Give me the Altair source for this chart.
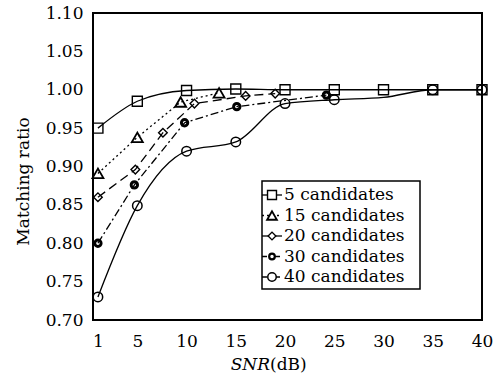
import altair as alt
import pandas as pd

# ---- data ----
series_names = ["5 candidates", "15 candidates", "20 candidates", "30 candidates", "40 candidates"]

snr_5 = [1, 5, 10, 15, 20, 25, 30, 35, 40]
ratio_5 = [0.950, 0.985, 0.999, 1.001, 1.000, 1.000, 1.000, 1.000, 1.000]
mark_5 = [True] * 9

snr_15 = [1, 5, 9.4, 13.3]
ratio_15 = [0.891, 0.938, 0.984, 0.996]
mark_15 = [True] * 4

snr_20 = [1, 4.8, 7.6, 10.8, 16, 19]
ratio_20 = [0.860, 0.896, 0.944, 0.982, 0.992, 0.995]
mark_20 = [True] * 6

snr_30 = [1, 4.7, 9.8, 15.1, 24.2]
ratio_30 = [0.800, 0.876, 0.957, 0.978, 0.993]
mark_30 = [True] * 5

snr_40 = [1, 5, 10, 15, 20, 25, 30, 35, 40]
ratio_40 = [0.730, 0.849, 0.920, 0.932, 0.982, 0.987, 0.990, 1.000, 1.000]
mark_40 = [True, True, True, True, True, True, False, True, True]

x_ticks = [1, 5, 10, 15, 20, 25, 30, 35, 40]
y_ticks = [0.70, 0.75, 0.80, 0.85, 0.90, 0.95, 1.00, 1.05, 1.10]

# ---- styles ----
FONT = "DejaVu Serif"
FS = 17
styles = {
    "5 candidates":  dict(dash=[], shape="square", size=100, sw=1.4, interp="monotone", ldash=[]),
    "15 candidates": dict(dash=[2, 3], shape="triangle-up", size=120, sw=1.8, interp="linear", ldash=[2, 3]),
    "20 candidates": dict(dash=[9, 5], shape="diamond", size=75, sw=1.4, interp="linear", ldash=[]),
    "30 candidates": dict(dash=[8, 3, 2, 3], shape="circle", size=40, sw=3.0, interp="linear", ldash=[5, 3, 2, 3]),
    "40 candidates": dict(dash=[], shape="circle", size=90, sw=1.5, interp="monotone", ldash=[5, 3, 2, 3]),
}
data = {
    "5 candidates": (snr_5, ratio_5, mark_5),
    "15 candidates": (snr_15, ratio_15, mark_15),
    "20 candidates": (snr_20, ratio_20, mark_20),
    "30 candidates": (snr_30, ratio_30, mark_30),
    "40 candidates": (snr_40, ratio_40, mark_40),
}

xenc = alt.X("snr:Q", scale=alt.Scale(domain=[0.5, 40], nice=False, zero=False),
             axis=alt.Axis(values=x_ticks, title=None, ticks=False, domain=False, grid=False,
                           labelPadding=13, labelFont=FONT, labelFontSize=FS, labelColor="black",
                           labelFlush=False))
yenc = alt.Y("ratio:Q", scale=alt.Scale(domain=[0.70, 1.10], nice=False, zero=False),
             axis=alt.Axis(values=y_ticks, format=".2f", ticks=False, domain=False, grid=False,
                           labelPadding=10, labelFont=FONT, labelFontSize=FS, labelColor="black",
                           title="Matching ratio", titleFont=FONT, titleFontSize=FS,
                           titleFontWeight="normal", titleColor="black", titleX=-70, titleY=168,
                           titleAngle=270, titleAlign="center", titleBaseline="middle"))

layers = []
for name in series_names:
    xs, ys, ms = data[name]
    st = styles[name]
    df = pd.DataFrame({"snr": xs, "ratio": ys, "mark": ms})
    line_kw = dict(color="black", strokeWidth=1.3, interpolate=st["interp"])
    if st["dash"]:
        line_kw["strokeDash"] = st["dash"]
    layers.append(alt.Chart(df).mark_line(**line_kw).encode(x=xenc, y=yenc))
    layers.append(
        alt.Chart(df[df["mark"]]).mark_point(shape=st["shape"], size=st["size"], filled=False,
                                             color="black", strokeWidth=st["sw"], opacity=1)
        .encode(x=xenc, y=yenc)
    )

# ---- legend (drawn as a box with entries) ----
box_l, box_r, box_t, box_b = 169, 327, 168, 276
layers.append(
    alt.Chart(pd.DataFrame({"k": [0]})).mark_rect(fill="white", stroke="black", strokeWidth=1.5)
    .encode(x=alt.value(box_l), x2=alt.value(box_r), y=alt.value(box_t), y2=alt.value(box_b))
)
for i, name in enumerate(series_names):
    st = styles[name]
    yy = 182 + 20.5 * i
    one = pd.DataFrame({"series": [name]})
    rk = dict(color="black", strokeWidth=1.3)
    if st["ldash"]:
        rk["strokeDash"] = st["ldash"]
    layers.append(alt.Chart(one).mark_rule(**rk).encode(
        x=alt.value(box_l), x2=alt.value(box_l + 20), y=alt.value(yy)))
    layers.append(alt.Chart(one).mark_point(shape=st["shape"], size=st["size"] * 0.8, filled=False,
                                            fill="white", color="black",
                                            strokeWidth=min(st["sw"], 2.2), opacity=1)
                  .encode(x=alt.value(box_l + 10), y=alt.value(yy)))
    layers.append(alt.Chart(one).mark_text(align="left", baseline="middle", font=FONT, fontSize=FS,
                                           color="black")
                  .encode(x=alt.value(box_l + 22), y=alt.value(yy), text="series:N"))

# ---- x-axis title with italic SNR ----
title_mid = 271 - 93 - 1
layers.append(alt.Chart(pd.DataFrame({"t": ["SNR"]})).mark_text(
    align="right", baseline="middle", font=FONT, fontSize=FS, fontStyle="italic", color="black")
    .encode(x=alt.value(title_mid), y=alt.value(365 - 13), text="t:N"))
layers.append(alt.Chart(pd.DataFrame({"t": ["(dB)"]})).mark_text(
    align="left", baseline="middle", font=FONT, fontSize=FS, color="black")
    .encode(x=alt.value(title_mid), y=alt.value(365 - 13), text="t:N"))

chart = alt.layer(*layers).properties(
    width=389, height=307,
    autosize=alt.AutoSizeParams(type="none"),
    padding={"left": 93, "top": 13, "right": 15, "bottom": 63},
    background="white",
).configure_view(stroke="black", strokeWidth=2)

chart.save("out.html", embed_options={"renderer": "svg", "actions": False})
